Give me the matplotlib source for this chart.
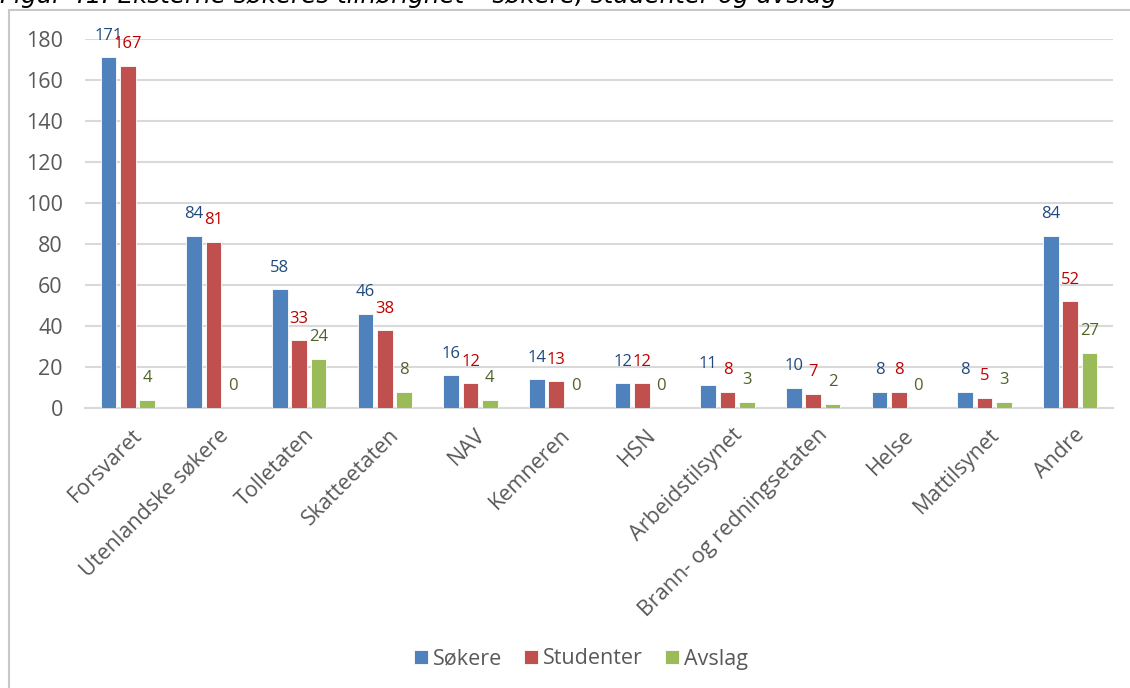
import matplotlib
matplotlib.use("Agg")
import matplotlib.pyplot as plt
import numpy as np
from matplotlib.patches import Rectangle
from matplotlib.transforms import ScaledTranslation

categories = ["Forsvaret", "Utenlandske søkere", "Tolletaten", "Skatteetaten", "NAV",
              "Kemneren", "HSN", "Arbeidstilsynet", "Brann- og redningsetaten",
              "Helse", "Mattilsynet", "Andre"]
sokere = [171, 84, 58, 46, 16, 14, 12, 11, 10, 8, 8, 84]
studenter = [167, 81, 33, 38, 12, 13, 12, 8, 7, 8, 5, 52]
avslag = [4, 0, 24, 8, 4, 0, 0, 3, 2, 0, 3, 27]
series_names = ["Søkere", "Studenter", "Avslag"]
yticks = [0, 20, 40, 60, 80, 100, 120, 140, 160, 180]
title = "Figur 41: Eksterne søkeres tilhørighet – søkere, studenter og avslag"

plt.rcParams['font.family'] = ['Open Sans', 'DejaVu Sans']

W, H = 1130, 688
fig = plt.figure(figsize=(W / 100, H / 100), dpi=100)

# chart frame
fig.patches.append(Rectangle((9 / W, -0.1), 1.2, 1 - 10 / H + 0.1, transform=fig.transFigure,
                             fill=False, edgecolor="#C8C8C8", linewidth=1.5))
# clipped title
fig.text(0.0, 1 - 3 / H, title, fontsize=17.7, style="italic", family="DejaVu Sans",
         color="#000000", ha="left", va="baseline")

ax = fig.add_axes([85 / W, 1 - 408 / H, (1113 - 85) / W, (408 - 39) / H])

x = np.arange(len(categories))
bw = 0.185
offs = [-0.225, 0.0, 0.225]
colors = ["#4F81BD", "#C0504D", "#9BBB59"]
lcolors = ["#1F497D", "#C00000", "#4F6228"]
for vals, off, c, lc, name in zip([sokere, studenter, avslag], offs, colors, lcolors, series_names):
    bars = ax.bar(x + off, vals, width=bw, color=c, edgecolor="white", linewidth=0.6,
                  label=name, zorder=3)
    for b, v in zip(bars, vals):
        ax.annotate(str(v), (b.get_x() + b.get_width() / 2, v), xytext=(0, 15.5),
                    textcoords="offset points", ha="center", va="center",
                    fontsize=12, color=lc, clip_on=False)

ax.set_xlim(-0.5, len(categories) - 0.5)
ax.set_ylim(0, 180)
ax.set_yticks(yticks)
ax.yaxis.grid(True, color="#D9D9D9", linewidth=1.5, zorder=0)
ax.set_axisbelow(True)
for s in ["top", "right", "left"]:
    ax.spines[s].set_visible(False)
ax.spines["bottom"].set_color("#D9D9D9")
ax.spines["bottom"].set_linewidth(1.5)
ax.tick_params(axis="y", length=0, pad=16, labelsize=15.5, labelcolor="#595959")
ax.tick_params(axis="x", length=0, pad=12)
ax.set_xticks(x)
ax.set_xticklabels(categories, rotation=45, ha="right", va="top", rotation_mode="anchor",
                   fontsize=15.5, color="#595959")
for lbl in ax.get_xticklabels():
    lbl.set_transform(lbl.get_transform() + ScaledTranslation(4 / 100, 0, fig.dpi_scale_trans))

leg = fig.legend(loc="center", bbox_to_anchor=(581 / W, 1 - 659 / H), ncol=3, frameon=False,
                 fontsize=15.5, handlelength=0.65, handleheight=0.65, handletextpad=0.25,
                 columnspacing=1.0, labelcolor="#595959")

fig.savefig("out.png", dpi=100)
